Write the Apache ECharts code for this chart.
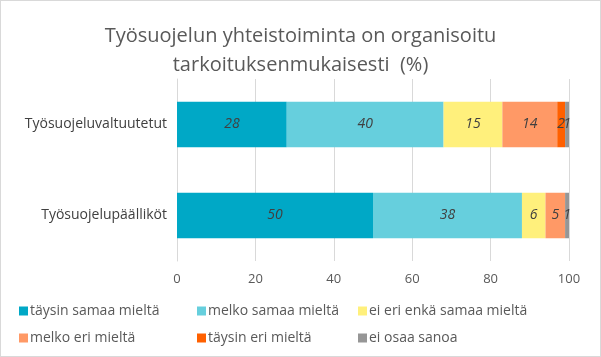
<!DOCTYPE html>
<html><head><meta charset="utf-8">
<script src="https://cdn.jsdelivr.net/npm/echarts@6/dist/echarts.min.js"></script>
<style>html,body{margin:0;padding:0;background:#fff}#c{width:599px;height:355px;border:1px solid #d9d9d9}</style>
</head><body><div id="c"></div>
<script>
const categories = ['Työsuojelupäälliköt', 'Työsuojeluvaltuutetut'];
const seriesNames = ['täysin samaa mieltä', 'melko samaa mieltä', 'ei eri enkä samaa mieltä', 'melko eri mieltä', 'täysin eri mieltä', 'ei osaa sanoa'];
const taysinSamaa = [50, 28];
const melkoSamaa = [38, 40];
const eiEriEnka = [6, 15];
const melkoEri = [5, 14];
const taysinEri = [0, 2];
const eiOsaa = [1, 1];
const xTicks = [0, 20, 40, 60, 80, 100];
const colors = ['#00A8C6', '#66CFDD', '#FFF07C', '#FF9966', '#FF6000', '#969696'];

const values = [taysinSamaa, melkoSamaa, eiEriEnka, melkoEri, taysinEri, eiOsaa];
const chart = echarts.init(document.getElementById('c'));
const font = '"Open Sans", "Noto Sans", sans-serif';
const legendLeft = [18, 196, 357];
const legendTop = [303, 330];
chart.setOption({
  animation: false,
  textStyle: { fontFamily: font },
  title: {
    text: 'Työsuojelun yhteistoiminta on organisoitu\ntarkoituksenmukaisesti  (%)',
    left: 'center', top: 16,
    textStyle: { fontSize: 20, fontWeight: 'normal', color: '#595959', lineHeight: 29, fontFamily: font }
  },
  legend: seriesNames.map((n, i) => ({
    left: legendLeft[i % 3], top: legendTop[Math.floor(i / 3)], padding: 0,
    itemWidth: 9, itemHeight: 9, icon: 'rect', selectedMode: false,
    data: [n],
    textStyle: { fontSize: 14, color: '#595959', padding: [0, 0, 0, -3] }
  })),
  grid: { left: 176, right: 31, top: 78, bottom: 95, containLabel: false },
  xAxis: {
    type: 'value', min: 0, max: 100, interval: 20,
    axisLine: { show: false }, axisTick: { show: false },
    splitLine: { lineStyle: { color: '#d9d9d9' } },
    axisLabel: { color: '#595959', fontSize: 13, margin: 12,
      formatter: v => xTicks.includes(v) ? String(v) : '' }
  },
  yAxis: {
    type: 'category', data: categories,
    axisLine: { lineStyle: { color: '#d9d9d9' } }, axisTick: { show: false },
    axisLabel: { color: '#404040', fontSize: 14, margin: 10 }
  },
  series: values.map((d, i) => ({
    name: seriesNames[i], type: 'bar', stack: 'a', barWidth: '50%',
    data: d, itemStyle: { color: colors[i] },
    label: { show: true, position: 'inside', fontStyle: 'italic', fontSize: 14, color: '#404040',
      formatter: p => p.value > 0 ? String(p.value) : '' }
  }))
});
</script></body></html>
